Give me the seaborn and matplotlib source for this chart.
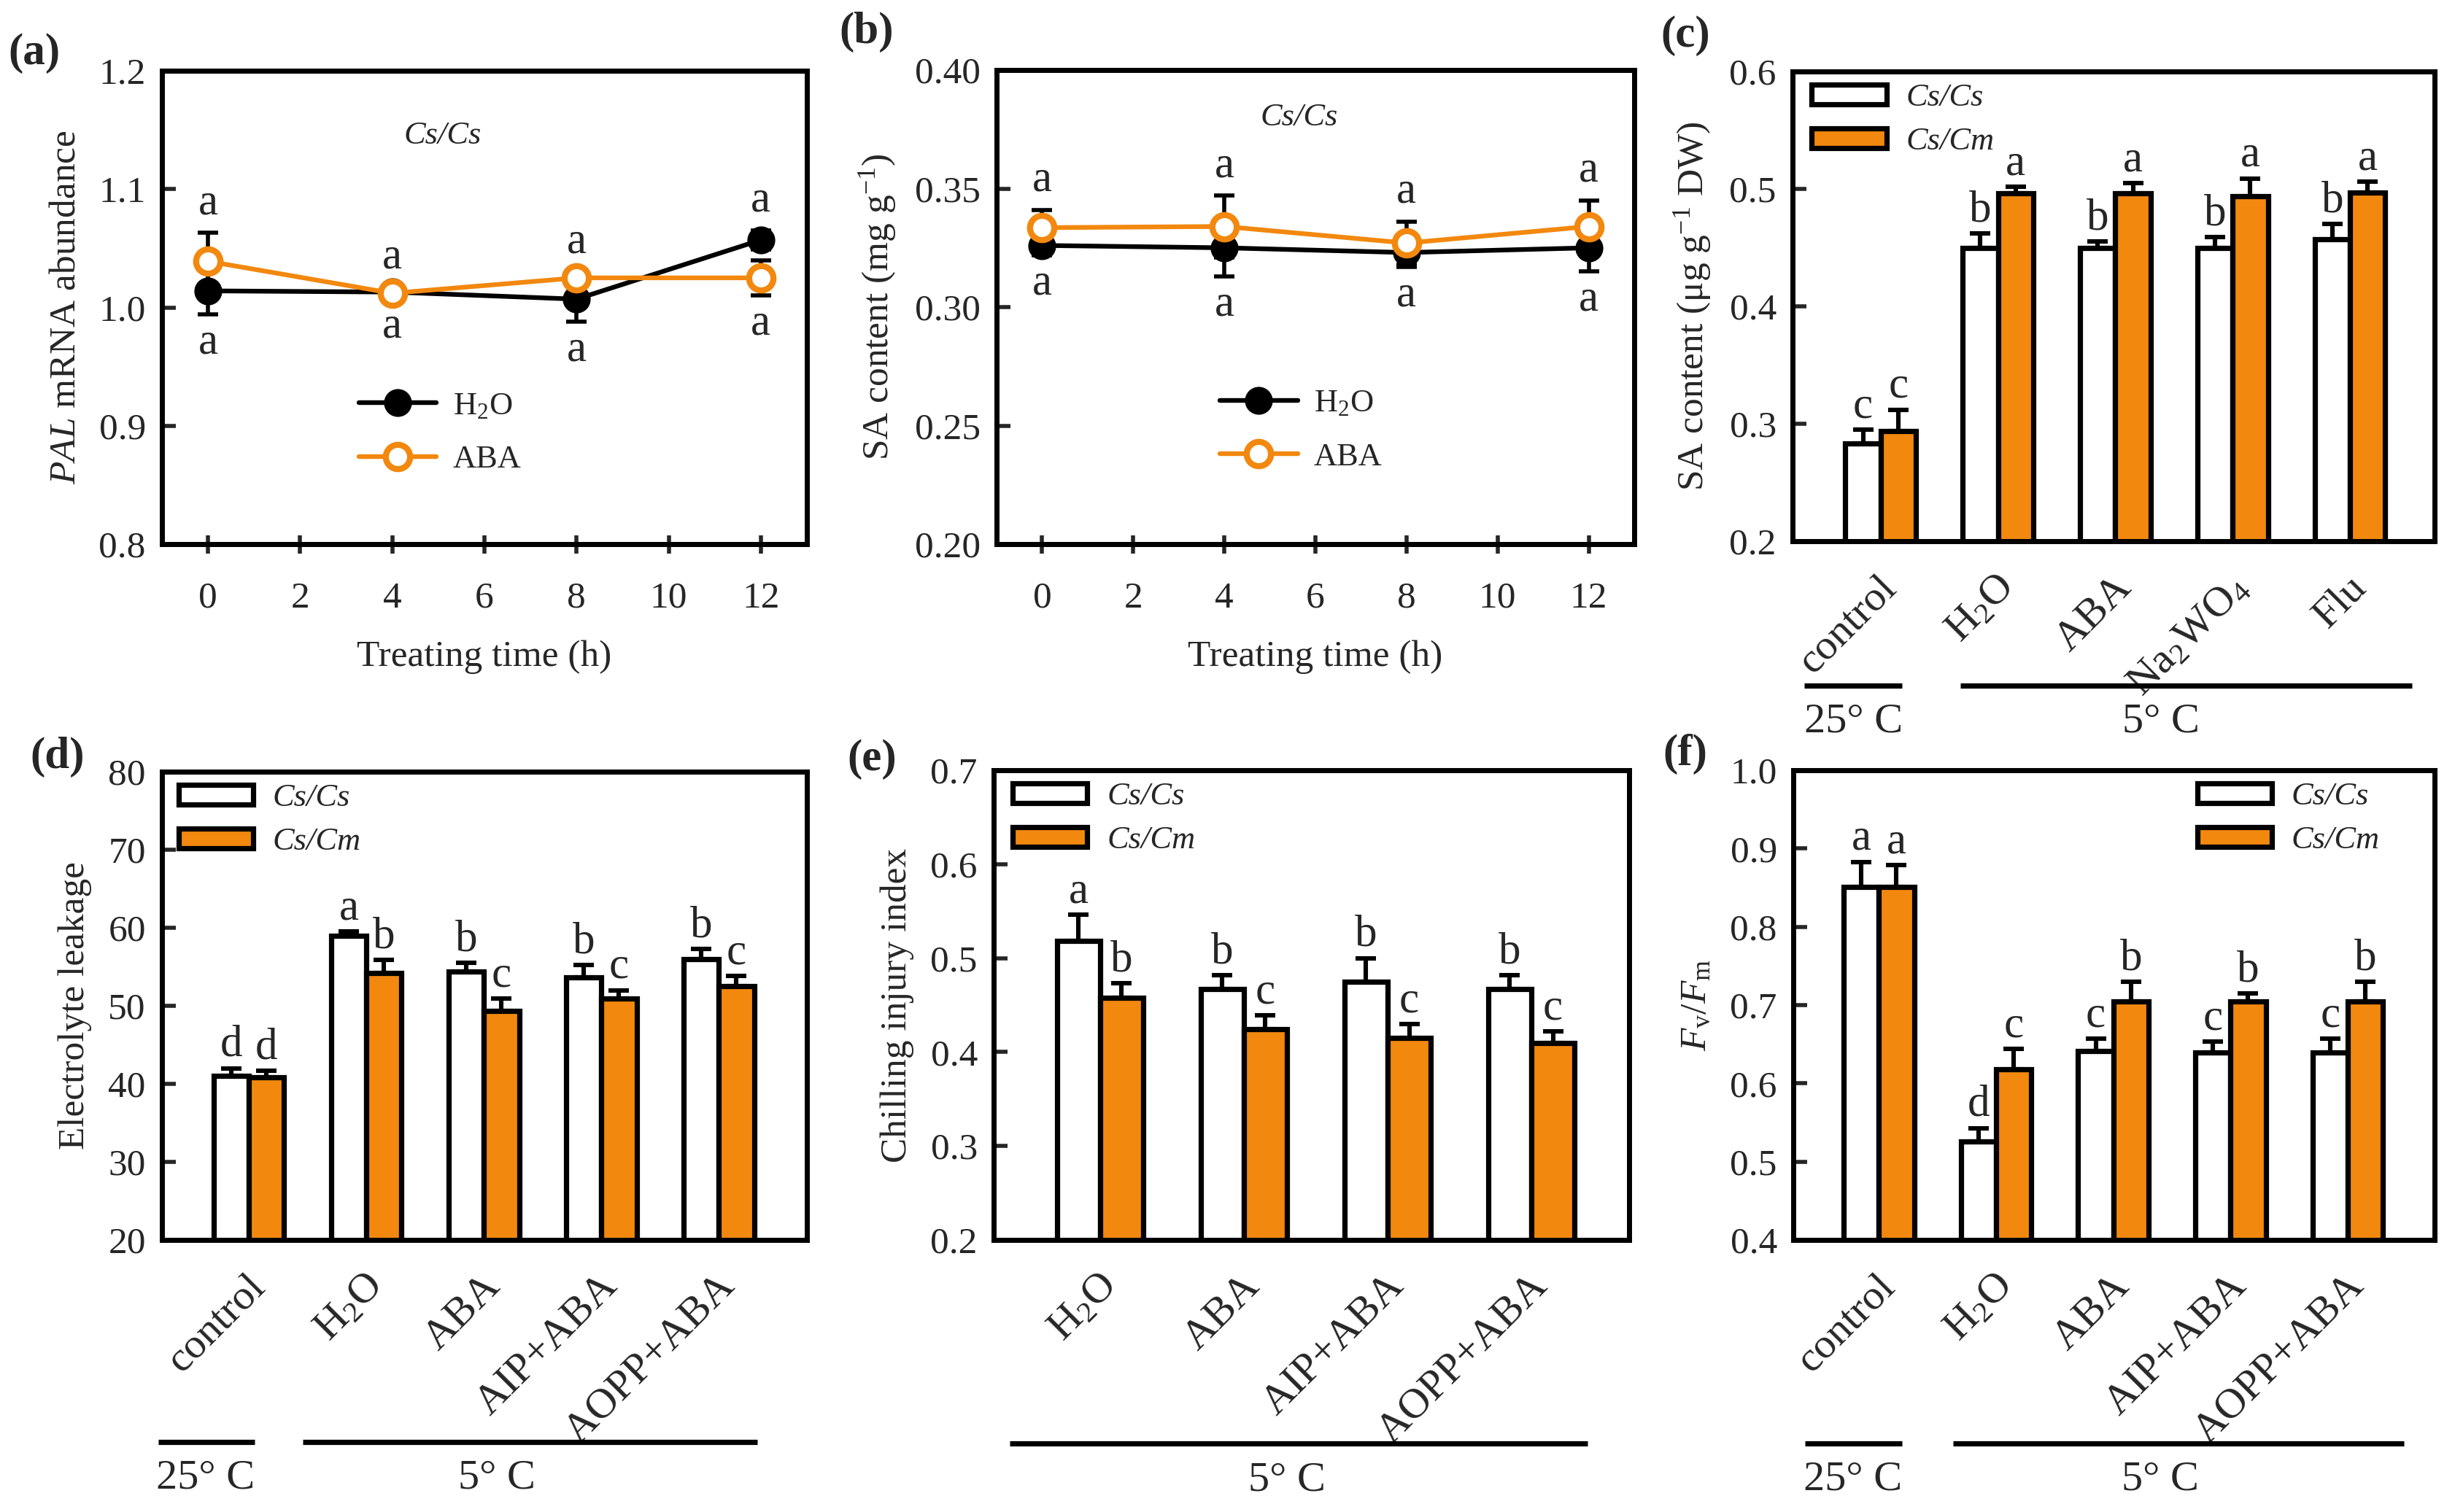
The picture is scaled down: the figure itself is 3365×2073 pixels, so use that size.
import numpy as np
import pandas as pd
import seaborn as sns
import matplotlib.pyplot as plt
import matplotlib.transforms as mtransforms
from matplotlib.patches import Patch

sns.set_style('ticks')
plt.rcParams['font.family'] = ['Liberation Serif', 'DejaVu Serif']
plt.rcParams['mathtext.fontset'] = 'custom'
plt.rcParams['mathtext.rm'] = 'Liberation Serif'
plt.rcParams['mathtext.it'] = 'Liberation Serif:italic'
plt.rcParams['mathtext.bf'] = 'Liberation Serif:bold'

ORANGE = '#F2880E'

# ---- (a) PAL mRNA abundance / (b) SA content, time course ----
times = [0, 4, 8, 12]
pal_h2o = [1.014, 1.013, 1.007, 1.057]
pal_h2o_err = [0.020, 0.004, 0.019, 0.008]
pal_aba = [1.039, 1.012, 1.025, 1.025]
pal_aba_err = [0.024, 0.004, 0.005, 0.015]
pal_letters_top = ['a', 'a', 'a', 'a']
pal_letters_bot = ['a', 'a', 'a', 'a']

sa_h2o = [0.326, 0.325, 0.323, 0.325]
sa_h2o_err = [0.004, 0.012, 0.006, 0.010]
sa_aba = [0.3335, 0.334, 0.327, 0.334]
sa_aba_err = [0.0075, 0.013, 0.009, 0.011]
sa_letters_top = ['a', 'a', 'a', 'a']
sa_letters_bot = ['a', 'a', 'a', 'a']

# ---- (c) SA content, bars ----
c_groups = ['control', 'H$_2$O', 'ABA', 'Na$_2$WO$_4$', 'Flu']
c_cscs = [0.283, 0.450, 0.450, 0.450, 0.457]
c_cscs_err = [0.012, 0.012, 0.005, 0.009, 0.013]
c_cscm = [0.294, 0.496, 0.496, 0.494, 0.497]
c_cscm_err = [0.018, 0.006, 0.009, 0.015, 0.009]
c_let_cscs = ['c', 'b', 'b', 'b', 'b']
c_let_cscm = ['c', 'a', 'a', 'a', 'a']

# ---- (d) electrolyte leakage ----
d_groups = ['control', 'H$_2$O', 'ABA', 'AIP+ABA', 'AOPP+ABA']
d_cscs = [41.0, 59.0, 54.4, 53.6, 56.0]
d_cscs_err = [1.0, 0.5, 1.1, 1.6, 1.3]
d_cscm = [40.8, 54.2, 49.3, 50.9, 52.5]
d_cscm_err = [0.9, 1.7, 1.6, 1.1, 1.3]
d_let_cscs = ['d', 'a', 'b', 'b', 'b']
d_let_cscm = ['d', 'b', 'c', 'c', 'c']

# ---- (e) chilling injury index ----
e_groups = ['H$_2$O', 'ABA', 'AIP+ABA', 'AOPP+ABA']
e_cscs = [0.518, 0.467, 0.475, 0.467]
e_cscs_err = [0.028, 0.015, 0.025, 0.015]
e_cscm = [0.458, 0.424, 0.415, 0.410]
e_cscm_err = [0.015, 0.015, 0.015, 0.012]
e_let_cscs = ['a', 'b', 'b', 'b']
e_let_cscm = ['b', 'c', 'c', 'c']

# ---- (f) Fv/Fm ----
f_groups = ['control', 'H$_2$O', 'ABA', 'AIP+ABA', 'AOPP+ABA']
f_cscs = [0.851, 0.526, 0.641, 0.639, 0.639]
f_cscs_err = [0.032, 0.017, 0.016, 0.014, 0.018]
f_cscm = [0.851, 0.618, 0.705, 0.705, 0.705]
f_cscm_err = [0.028, 0.026, 0.025, 0.010, 0.025]
f_let_cscs = ['a', 'd', 'c', 'c', 'c']
f_let_cscm = ['a', 'c', 'b', 'b', 'b']

grafts = ['Cs/Cs', 'Cs/Cm']

W, H = 3365, 2073
fig = plt.figure(figsize=(W / 200, H / 200), dpi=200)


def make_ax(left, top, right, bottom):
    return fig.add_axes([left / W, 1 - bottom / H, (right - left) / W, (bottom - top) / H])


def style_ax(ax):
    for s in ax.spines.values():
        s.set_visible(True)
        s.set_linewidth(2.5)
        s.set_color('black')
    ax.tick_params(axis='y', direction='in', length=7, width=2, labelsize=18.5, pad=8)


def line_panel(ax, h2o, h2o_err, aba, aba_err, top_let, bot_let, ylim, yticks, fmt,
               ylabel, note_xy, leg_anchor):
    ax.errorbar(times, h2o, yerr=h2o_err, fmt='none', ecolor='black', elinewidth=2,
                capsize=5, capthick=2, zorder=2)
    ax.errorbar(times, aba, yerr=aba_err, fmt='none', ecolor='black', elinewidth=2,
                capsize=5, capthick=2, zorder=2)
    sns.lineplot(x=times, y=h2o, ax=ax, color='black', marker='o', ms=13, mfc='black',
                 mec='black', lw=2.3, zorder=3, label='H$_2$O')
    sns.lineplot(x=times, y=aba, ax=ax, color=ORANGE, marker='o', ms=12, mfc='white',
                 mec=ORANGE, mew=3, lw=2.3, zorder=4, label='ABA')
    ax.set_xlim(-1, 13)
    ax.set_ylim(*ylim)
    ax.set_xticks(range(0, 13, 2))
    ax.set_yticks(yticks)
    ax.set_yticklabels([fmt.format(v) for v in yticks])
    style_ax(ax)
    ax.tick_params(axis='x', direction='inout', length=9, width=2, labelsize=18.5, pad=14)
    ax.set_xlabel('Treating time (h)', fontsize=18.5, labelpad=12)
    ax.set_ylabel(ylabel, fontsize=18.5, labelpad=8)
    rng = ylim[1] - ylim[0]
    tops = np.maximum(np.add(h2o, h2o_err), np.add(aba, aba_err))
    bots = np.minimum(np.subtract(h2o, h2o_err), np.subtract(aba, aba_err))
    for t, yt, yb, lt, lb in zip(times, tops, bots, top_let, bot_let):
        ax.text(t, yt + 0.063 * rng, lt, ha='center', va='center', fontsize=22)
        ax.text(t, yb - 0.06 * rng, lb, ha='center', va='center', fontsize=22)
    ax.text(*note_xy, 'Cs/Cs', style='italic', ha='center', va='center', fontsize=16)
    ax.legend(loc='center left', bbox_to_anchor=leg_anchor, frameon=False, fontsize=16,
              handlelength=2.4, labelspacing=0.75, borderpad=0, borderaxespad=0,
              handletextpad=0.5)


def bar_panel(ax, groups, cscs, cscs_err, cscm, cscm_err, let_cscs, let_cscm, ylim, step,
              ylabel, xlim, leg_anchor, brackets, bracket_y, text_y):
    df = pd.DataFrame({
        'group': groups * 2,
        'graft': [grafts[0]] * len(groups) + [grafts[1]] * len(groups),
        'value': cscs + cscm,
    })
    sns.barplot(data=df, x='group', y='value', hue='graft', order=groups, hue_order=grafts,
                palette={'Cs/Cs': 'white', 'Cs/Cm': ORANGE}, saturation=1, width=0.6,
                edgecolor='black', linewidth=2.6, errorbar=None, legend=False, ax=ax, zorder=2)
    rng = ylim[1] - ylim[0]
    for cont, errs, lets in zip(ax.containers, [cscs_err, cscm_err], [let_cscs, let_cscm]):
        xs = [b.get_x() + b.get_width() / 2 for b in cont]
        hs = [b.get_y() + b.get_height() for b in cont]
        ax.errorbar(xs, hs, yerr=[np.zeros(len(errs)), errs], fmt='none', ecolor='black',
                    elinewidth=2.2, capsize=5, capthick=2.2, zorder=3)
        for x, h, e, l in zip(xs, hs, errs, lets):
            ax.text(x, h + e + 0.026 * rng, l, ha='center', va='baseline', fontsize=22)
    ax.set_ylim(*ylim)
    ax.set_xlim(*xlim)
    yt = np.arange(ylim[0], ylim[1] + step / 2, step)
    ax.set_yticks(yt)
    if step >= 1:
        ax.set_yticklabels([f'{v:.0f}' for v in yt])
    else:
        ax.set_yticklabels([f'{v:.1f}' for v in yt])
    style_ax(ax)
    ax.set_xlabel('')
    ax.set_ylabel(ylabel, fontsize=18.5, labelpad=8)
    ax.set_xticks(range(len(groups)))
    ax.set_xticklabels(groups, rotation=45, ha='right', va='center', rotation_mode='anchor',
                       fontsize=21)
    ax.tick_params(axis='x', length=0, pad=20)
    off = mtransforms.ScaledTranslation(0.07, 0, fig.dpi_scale_trans)
    for lab in ax.get_xticklabels():
        lab.set_transform(lab.get_transform() + off)
    handles = [Patch(facecolor='white', edgecolor='black', linewidth=2.6, label=grafts[0]),
               Patch(facecolor=ORANGE, edgecolor='black', linewidth=2.6, label=grafts[1])]
    ax.legend(handles=handles, loc='upper left', bbox_to_anchor=leg_anchor, frameon=False,
              prop={'size': 16, 'style': 'italic'}, handlelength=2.3, handleheight=0.55,
              labelspacing=0.45, borderpad=0, borderaxespad=0, handletextpad=0.6)
    trans = mtransforms.blended_transform_factory(ax.transData, ax.transAxes)
    for x0, x1, xt, txt in brackets:
        ax.plot([x0, x1], [bracket_y, bracket_y], color='black', lw=2.6, transform=trans,
                clip_on=False, solid_capstyle='butt')
        ax.text(xt, text_y, txt, transform=trans, ha='center', va='center', fontsize=21)


ax_a = make_ax(222, 97, 1106, 746)
line_panel(ax_a, pal_h2o, pal_h2o_err, pal_aba, pal_aba_err, pal_letters_top, pal_letters_bot,
           (0.8, 1.2), [0.8, 0.9, 1.0, 1.1, 1.2], '{:.1f}', r'$\it{PAL}$ mRNA abundance',
           (5.1, 1.145), (0.305, 0.235))

ax_b = make_ax(1366, 96, 2240, 746)
line_panel(ax_b, sa_h2o, sa_h2o_err, sa_aba, sa_aba_err, sa_letters_top, sa_letters_bot,
           (0.20, 0.40), [0.20, 0.25, 0.30, 0.35, 0.40], '{:.2f}', r'SA content (mg g$^{-1}$)',
           (5.65, 0.380), (0.35, 0.24))

ax_c = make_ax(2457, 98, 3337, 742)
bar_panel(ax_c, c_groups, c_cscs, c_cscs_err, c_cscm, c_cscm_err, c_let_cscs, c_let_cscm,
          (0.2, 0.6), 0.1, r'SA content (μg g$^{-1}$ DW)', (-0.75, 4.72), (0.03, 0.975),
          [(-0.65, 0.18, -0.23, '25° C'), (0.68, 4.53, 2.39, '5° C')], -0.307, -0.384)

ax_d = make_ax(222, 1058, 1106, 1700)
bar_panel(ax_d, d_groups, d_cscs, d_cscs_err, d_cscm, d_cscm_err, d_let_cscs, d_let_cscm,
          (20, 80), 10, 'Electrolyte leakage', (-0.74, 4.75), (0.026, 0.975),
          [(-0.77, 0.05, -0.37, '25° C'), (0.46, 4.33, 2.11, '5° C')], -0.431, -0.509)

ax_e = make_ax(1362, 1056, 2233, 1700)
bar_panel(ax_e, e_groups, e_cscs, e_cscs_err, e_cscm, e_cscm_err, e_let_cscs, e_let_cscm,
          (0.2, 0.7), 0.1, 'Chilling injury index', (-0.74, 3.68), (0.03, 0.975),
          [(-0.63, 3.39, 1.30, '5° C')], -0.433, -0.512)

ax_f = make_ax(2458, 1056, 3337, 1700)
bar_panel(ax_f, f_groups, f_cscs, f_cscs_err, f_cscm, f_cscm_err, f_let_cscs, f_let_cscm,
          (0.4, 1.0), 0.1, r'$F_{\rm v}/F_{\rm m}$', (-0.73, 4.74), (0.63, 0.975),
          [(-0.63, 0.20, -0.22, '25° C'), (0.63, 4.48, 2.40, '5° C')], -0.433, -0.51)

for lab, x, y in [('(a)', 47, 73), ('(b)', 1188, 44), ('(c)', 2310, 49),
                  ('(d)', 79, 1038), ('(e)', 1195, 1041), ('(f)', 2310, 1034)]:
    fig.text(x / W, 1 - y / H, lab, ha='center', va='center', fontsize=22, fontweight='bold')

fig.savefig('out.png', dpi=200)
